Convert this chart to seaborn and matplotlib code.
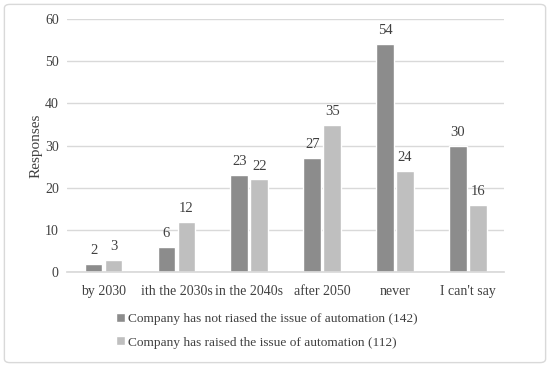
import matplotlib
matplotlib.use("Agg")
import matplotlib.pyplot as plt
import seaborn as sns
import pandas as pd
from matplotlib.patches import FancyBboxPatch

categories = ["by 2030", "ith the 2030s", "in the 2040s", "after 2050", "never", "I can't say"]
series_names = ["Company has not riased the issue of automation (142)",
                "Company has raised the issue of automation (112)"]
not_raised = [2, 6, 23, 27, 54, 30]
raised = [3, 12, 22, 35, 24, 16]
yticks = [0, 10, 20, 30, 40, 50, 60]

df = pd.DataFrame({
    "category": categories * 2,
    "series": [series_names[0]] * len(categories) + [series_names[1]] * len(categories),
    "value": not_raised + raised,
})

sns.set_theme(style="white")
plt.rcParams['font.family'] = ['Liberation Serif', 'DejaVu Serif']

fig = plt.figure(figsize=(5.5, 3.67), dpi=100)
ax = fig.add_axes([0.122, 0.258, 0.795, 0.69])

palette = ["#8c8c8c", "#bfbfbf"]
sns.barplot(data=df, x="category", y="value", hue="series", palette=palette,
            width=0.55, gap=0.12, ax=ax, saturation=1)

for cont in ax.containers:
    ax.bar_label(cont, padding=5, fontsize=10.5, color="#404040")

ax.set_ylim(0, 60)
ax.set_yticks(yticks)
ax.set_xlim(-0.5, 5.5)
ax.yaxis.grid(True, color="#d9d9d9", linewidth=1)
ax.set_axisbelow(True)
for s in ["top", "right", "left"]:
    ax.spines[s].set_visible(False)
ax.spines["bottom"].set_color("#d9d9d9")
ax.tick_params(axis="both", length=0, labelsize=10, labelcolor="#404040")
ax.tick_params(axis="x", pad=9)
ax.tick_params(axis="y", pad=6)
ax.set_xlabel("")
ax.set_ylabel("Responses", fontsize=11, color="#404040", labelpad=2)

handles, labels = ax.get_legend_handles_labels()
ax.legend(handles, labels, loc="upper center", bbox_to_anchor=(0.457, -0.113),
          ncol=1, frameon=False, fontsize=9.6, handlelength=0.65, handleheight=0.65,
          handletextpad=0.25, labelspacing=0.85, labelcolor="#404040")

border = FancyBboxPatch((0.008, 0.012), 0.984, 0.976, boxstyle="round,pad=0,rounding_size=0.01",
                        transform=fig.transFigure, fill=False, edgecolor="#d9d9d9", linewidth=1)
fig.patches.append(border)

fig.savefig("out.png", dpi=100)
